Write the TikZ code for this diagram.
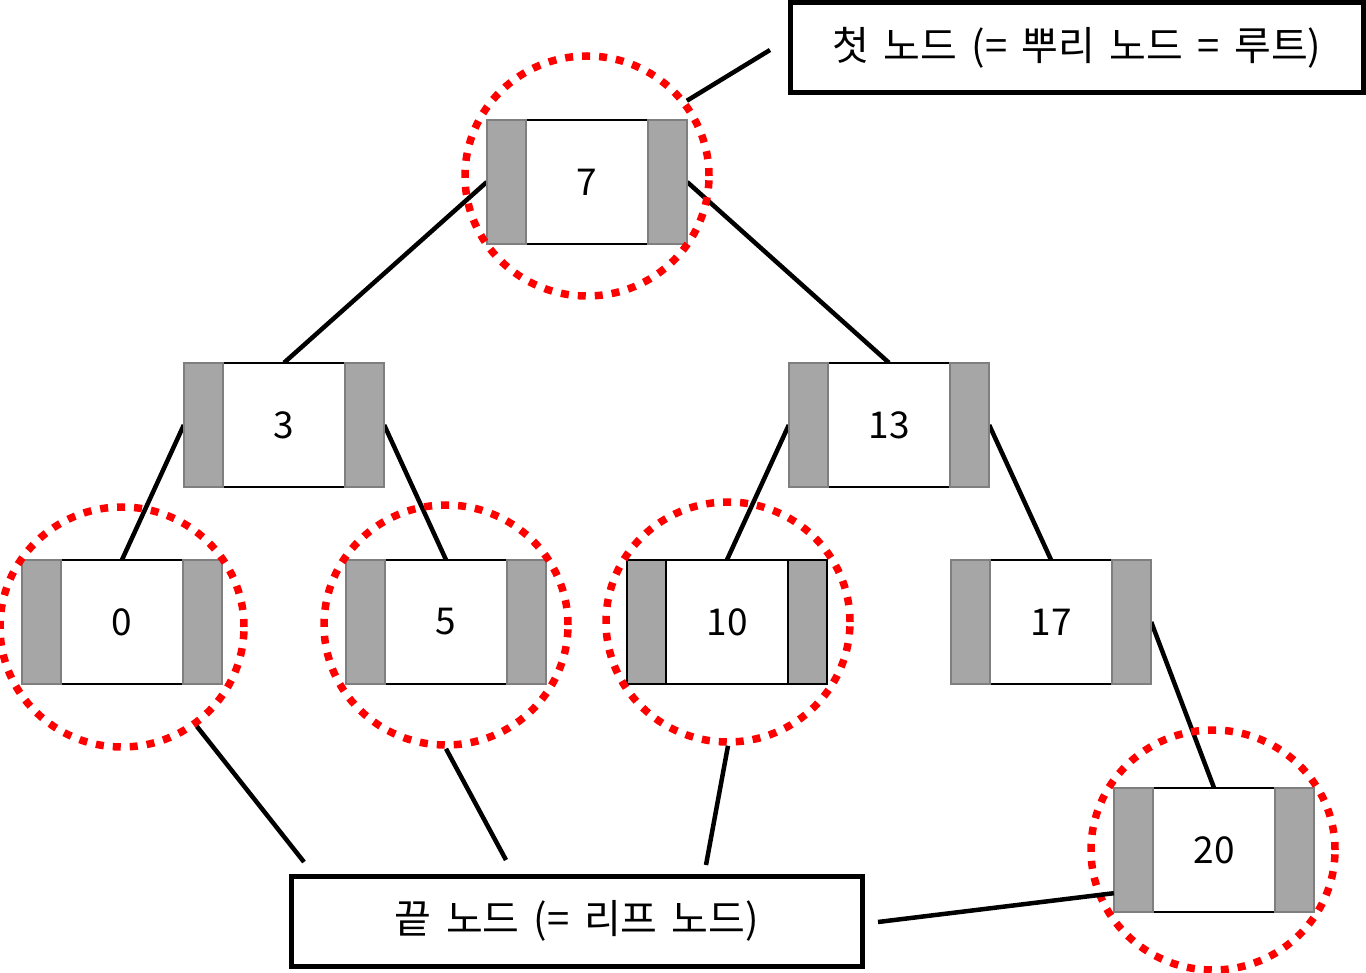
\documentclass[tikz,border=0pt]{standalone}
\usepackage{fontspec}
\setmainfont{Noto Sans CJK KR}
\newfontfamily\labelfont[WordSpace=1.6]{Noto Sans CJK KR}
\usetikzlibrary{shapes.geometric}
\definecolor{capgray}{HTML}{A6A6A6}
\definecolor{capedge}{HTML}{7F7F7F}
\definecolor{dotred}{HTML}{FF0000}
\begin{document}
\begin{tikzpicture}[x=1pt,y=-1pt,
  tn/.style={minimum width=200pt, minimum height=124pt, inner sep=0pt,
    font=\fontsize{37pt}{44pt}\selectfont},
  capbox/.style={draw=capedge, line width=1.5pt, fill=capgray},
  capboxdark/.style={draw=black, line width=2pt, fill=capgray},
  midline/.style={draw=black, line width=2pt},
  link/.style={draw=black, line width=4.5pt},
  mark ring/.style={ellipse, draw=dotred, line width=7.5pt, dash pattern=on 8pt off 9pt,
    minimum width=244pt, minimum height=240pt, inner sep=0pt},
  labelbox/.style={draw=black, line width=5pt, inner sep=0pt,
    minimum height=90pt, font=\labelfont\fontsize{40pt}{48pt}\selectfont}
]
\useasboundingbox (0,0) rectangle (1366,973);

% tree nodes (positions only)
\foreach \n/\x/\y in {r/587/182, a/284/425, b/889/425, c/122/622,
  d/446/622, e/727/622, f/1051/622, g/1214/850}{
  \node[tn] (\n) at (\x,\y) {};
}

% connectors between tree nodes
\draw[link] (r.west) -- (a.north);
\draw[link] (r.east) -- (b.north);
\draw[link] (a.west) -- (c.north);
\draw[link] (a.east) -- (d.north);
\draw[link] (b.west) -- (e.north);
\draw[link] (b.east) -- (f.north);
\draw[link] (f.east) -- (g.north);

% node bodies
\foreach \n/\t/\cs in {r/7/capbox, a/3/capbox, b/13/capbox, c/0/capbox,
  d/5/capbox, e/10/capboxdark, f/17/capbox, g/20/capbox}{
  \fill[white] ([xshift=39pt]\n.north west) rectangle ([xshift=-39pt]\n.south east);
  \draw[midline] ([xshift=39pt]\n.north west) -- ([xshift=-39pt]\n.north east);
  \draw[midline] ([xshift=39pt]\n.south west) -- ([xshift=-39pt]\n.south east);
  \draw[\cs] (\n.north west) rectangle ([xshift=39pt]\n.south west);
  \draw[\cs] (\n.north east) rectangle ([xshift=-39pt]\n.south east);
  \node[font=\fontsize{37pt}{44pt}\selectfont, inner sep=0pt] at (\n.center) {\t};
}

% red dotted rings
\node[mark ring] (cr) at (587,176) {};
\node[mark ring] (cc) at (122,627) {};
\node[mark ring] (cd) at (446,625) {};
\node[mark ring] (ce) at (728,622) {};
\node[mark ring] (cg) at (1213,850) {};

% label boxes
\node[labelbox, minimum width=573pt] (top) at (1077,48) {첫 노드 (= 뿌리 노드 = 루트)};
\node[labelbox, minimum width=571pt] (bot) at (577,921) {끝 노드 (= 리프 노드)};

% label connectors
\coordinate (t1) at (770,50);
\coordinate (b1) at (304,862);
\coordinate (b2) at (506,860);
\coordinate (b3) at (706,865);
\coordinate (b4) at (878,922);
\draw[link] (t1) -- (cr.37);
\draw[link] (cc.-53) -- (b1);
\draw[link] (cd.south) -- (b2);
\draw[link] (ce.south) -- (b3);
\draw[link] (b4) -- ([yshift=19pt]g.south west);
\end{tikzpicture}
\end{document}
